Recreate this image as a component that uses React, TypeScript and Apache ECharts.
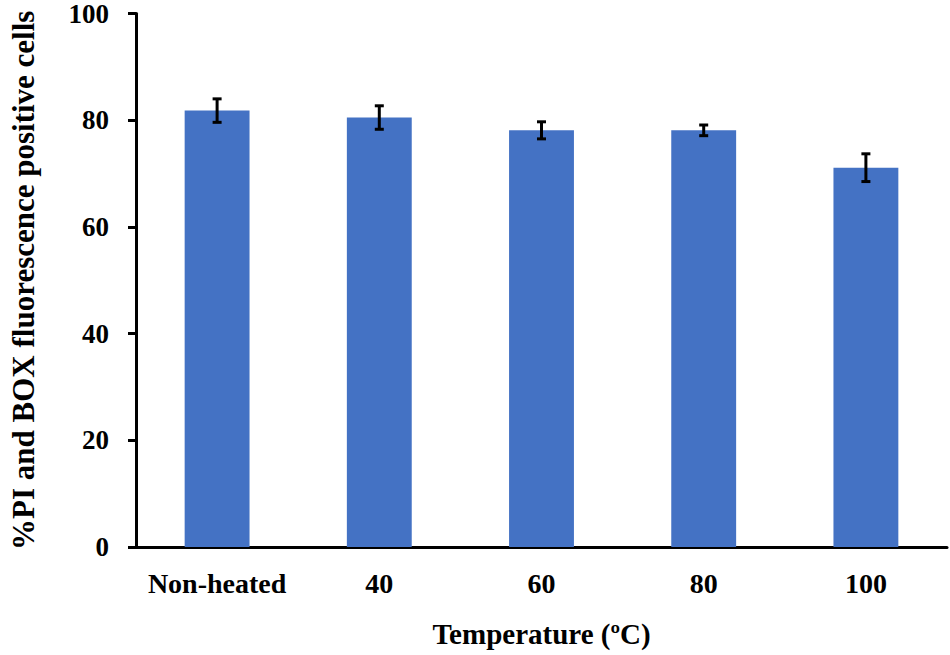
import React, { useEffect, useRef } from "react";
import * as echarts from "echarts";

const categories = ["Non-heated", "40", "60", "80", "100"];
const means = [81.8, 80.5, 78.1, 78.1, 71.1];
const errors = [2.2, 2.2, 1.6, 1.0, 2.6];
const yTicks = [0, 20, 40, 60, 80, 100];

const FONT = "'Liberation Serif', 'Times New Roman', serif";

export default function App() {
  const ref = useRef<HTMLDivElement>(null);
  useEffect(() => {
    document.body.style.margin = "0";
    const chart = echarts.init(ref.current!, null, { renderer: "svg" });
    const errData = means.map((m, i) => [i, m - errors[i], m + errors[i]]);
    chart.setOption({
      animation: false,
      backgroundColor: "#ffffff",
      grid: { left: 127, right: 3, top: 12, bottom: 108 },
      xAxis: {
        type: "category",
        data: categories,
        name: "Temperature (ºC)",
        nameLocation: "middle",
        nameGap: 72,
        nameTextStyle: { fontFamily: FONT, fontWeight: "bold", fontSize: 29, color: "#000" },
        axisLine: { lineStyle: { color: "#000", width: 3 } },
        axisTick: { alignWithLabel: true, length: 6, lineStyle: { color: "#000", width: 3 } },
        axisLabel: { interval: 0, fontFamily: FONT, fontWeight: "bold", fontSize: 28, color: "#000", margin: 22 },
      },
      yAxis: {
        type: "value",
        min: yTicks[0],
        max: yTicks[yTicks.length - 1],
        interval: 20,
        name: "%PI and BOX fluorescence positive cells",
        nameLocation: "middle",
        nameGap: 97,
        nameTextStyle: { fontFamily: FONT, fontWeight: "bold", fontSize: 31, color: "#000" },
        axisLine: { show: true, lineStyle: { color: "#000", width: 3 } },
        axisTick: { show: true, length: 8, lineStyle: { color: "#000", width: 3 } },
        splitLine: { show: false },
        axisLabel: { fontFamily: FONT, fontWeight: "bold", fontSize: 27, color: "#000", margin: 27 },
      },
      series: [
        {
          type: "bar",
          data: means,
          barWidth: "40%",
          itemStyle: { color: "#4472C4" },
        },
        {
          type: "custom",
          data: errData,
          z: 10,
          renderItem: (params: any, api: any) => {
            const x = api.value(0);
            const lo = api.coord([x, api.value(1)]);
            const hi = api.coord([x, api.value(2)]);
            const hw = 4.5;
            const style = { stroke: "#000", lineWidth: 3 };
            return {
              type: "group",
              children: [
                { type: "line", shape: { x1: lo[0], y1: lo[1], x2: hi[0], y2: hi[1] }, style },
                { type: "line", shape: { x1: hi[0] - hw, y1: hi[1], x2: hi[0] + hw, y2: hi[1] }, style },
                { type: "line", shape: { x1: lo[0] - hw, y1: lo[1], x2: lo[0] + hw, y2: lo[1] }, style },
              ],
            };
          },
        },
      ],
    });
    return () => chart.dispose();
  }, []);
  return <div ref={ref} style={{ width: 950, height: 655 }} />;
}
